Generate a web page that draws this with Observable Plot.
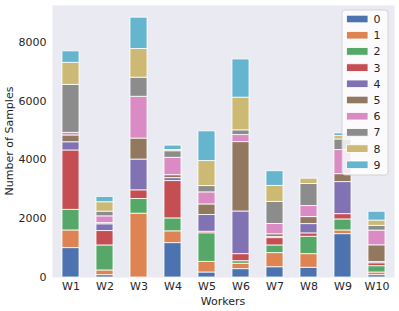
<!DOCTYPE html>
<html>
<head>
<meta charset="utf-8">
<script src="https://cdn.jsdelivr.net/npm/d3@7"></script>
<script src="https://cdn.jsdelivr.net/npm/@observablehq/plot@0.6"></script>
<style>
  html, body { margin: 0; padding: 0; background: #ffffff; }
  #chart { width: 399px; height: 311px; }
</style>
</head>
<body>
<div id="chart"></div>
<script>
const workers = ["W1","W2","W3","W4","W5","W6","W7","W8","W9","W10"];
const classes = ["0","1","2","3","4","5","6","7","8","9"];
const class0 = [1000, 80, 0, 1170, 170, 285, 350, 330, 1475, 80];
const class1 = [600, 160, 2170, 400, 360, 180, 480, 465, 125, 90];
const class2 = [700, 850, 500, 440, 975, 90, 260, 590, 375, 215];
const class3 = [2020, 490, 295, 1270, 50, 240, 250, 115, 180, 100];
const class4 = [280, 230, 1045, 100, 570, 1450, 40, 317, 1090, 40];
const class5 = [230, 40, 715, 100, 360, 2360, 90, 238, 270, 570];
const class6 = [90, 230, 1420, 590, 410, 240, 350, 375, 820, 500];
const class7 = [1630, 160, 650, 225, 215, 160, 750, 750, 360, 160];
const class8 = [750, 320, 975, 40, 850, 1110, 545, 180, 115, 180];
const class9 = [390, 180, 1065, 150, 1010, 1300, 500, 0, 90, 300];
const yTicks = [0, 2000, 4000, 6000, 8000];
const palette = ["#4C72B0","#DD8452","#55A868","#C44E52","#8172B3","#937860","#DA8BC3","#8C8C8C","#CCB974","#64B5CD"];

const series = [class0, class1, class2, class3, class4, class5, class6, class7, class8, class9];
const rows = [];
classes.forEach((c, ci) => {
  workers.forEach((w, wi) => {
    rows.push({worker: w, cls: c, value: series[ci][wi]});
  });
});

const font = "'DejaVu Sans', sans-serif";
const plot = Plot.plot({
  width: 399,
  height: 311,
  marginLeft: 52,
  marginRight: 5,
  marginTop: 5,
  marginBottom: 34,
  style: {fontFamily: font, fontSize: "11px", color: "#262626", background: "#ffffff"},
  x: {domain: workers, paddingInner: 0.5, paddingOuter: 0.23, label: null},
  y: {domain: [0, 9250], label: null},
  color: {domain: classes, range: palette},
  marks: [
    Plot.frame({fill: "#EAEAF2", stroke: null}),
    Plot.barY(rows, {x: "worker", y: "value", fill: "cls", stroke: "white", strokeWidth: 1, strokeOpacity: 0.8}),
    Plot.axisX({tickSize: 0, tickPadding: 5, fontSize: 11, label: null}),
    Plot.axisY({ticks: yTicks, tickSize: 0, tickPadding: 6, fontSize: 11, tickFormat: d => String(d), label: null})
  ]
});
document.getElementById("chart").appendChild(plot);

const svg = d3.select(plot);
const color = plot.scale("color");
// axis titles
svg.append("text")
  .attr("x", 52 + (394 - 52) / 2).attr("y", 305)
  .attr("text-anchor", "middle")
  .attr("font-family", font).attr("font-size", 11).attr("fill", "#262626")
  .text("Workers");
svg.append("text")
  .attr("transform", "translate(13,141) rotate(-90)")
  .attr("text-anchor", "middle")
  .attr("font-family", font).attr("font-size", 11).attr("fill", "#262626")
  .text("Number of Samples");

// legend
const lg = svg.append("g");
lg.append("rect")
  .attr("x", 342).attr("y", 10).attr("width", 46).attr("height", 165)
  .attr("rx", 3).attr("fill", "white").attr("fill-opacity", 0.8)
  .attr("stroke", "#cccccc").attr("stroke-width", 0.8);
classes.forEach((c, i) => {
  const cy = 19 + i * 16.2;
  lg.append("rect")
    .attr("x", 346.5).attr("y", cy - 3.8).attr("width", 21.5).attr("height", 7.6)
    .attr("fill", color.apply(c)).attr("stroke", "white").attr("stroke-width", 0.8);
  lg.append("text")
    .attr("x", 377).attr("y", cy).attr("dy", "0.36em")
    .attr("font-family", font).attr("font-size", 11).attr("fill", "#262626")
    .text(c);
});
</script>
</body>
</html>
